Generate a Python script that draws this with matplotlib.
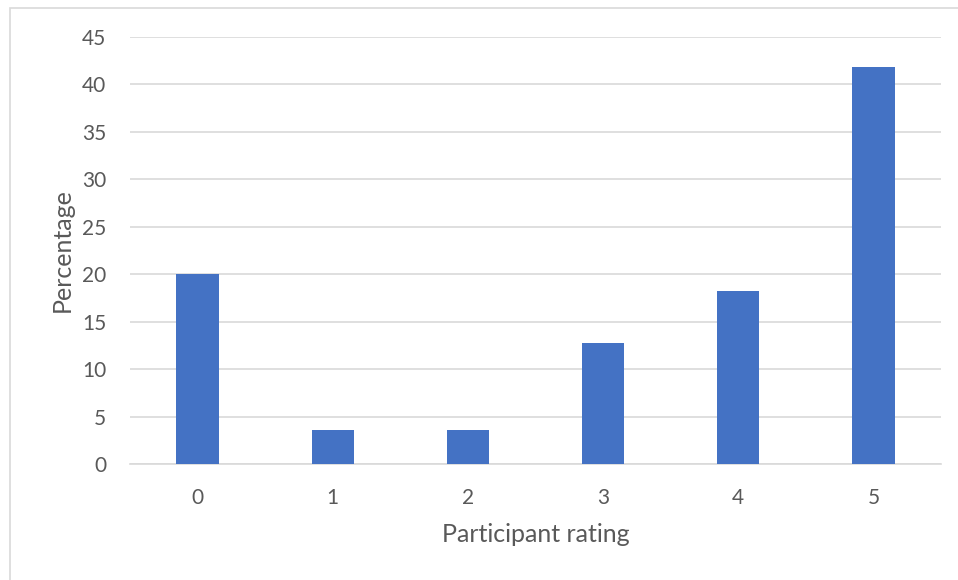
import matplotlib
matplotlib.use("Agg")
import matplotlib.pyplot as plt
from matplotlib.patches import Rectangle

ratings = ["0", "1", "2", "3", "4", "5"]
percentages = [20.0, 3.6, 3.6, 12.7, 18.2, 41.8]
y_ticks = [0, 5, 10, 15, 20, 25, 30, 35, 40, 45]

W, H = 958, 580
plt.rcParams["font.family"] = ["Lato", "DejaVu Sans"]
text_color = "#595959"
grid_color = "#D9D9D9"
bar_color = "#4472C4"

fig = plt.figure(figsize=(W / 100, H / 100), dpi=100)

# chart-area outline (continues past the right and bottom edges)
fig.patches.append(Rectangle((9.5 / W, -0.05), 1.2, 1 - 7.5 / H + 0.05,
                             transform=fig.transFigure, fill=False,
                             edgecolor=grid_color, linewidth=1.2))

ax = fig.add_axes([130 / W, 1 - 464 / H, (941 - 130) / W, (464 - 37) / H])
x = range(len(ratings))
ax.bar(x, percentages, width=0.313, color=bar_color, zorder=3)

ax.set_xlim(-0.5, len(ratings) - 0.5)
ax.set_ylim(0, 45)
ax.set_yticks(y_ticks)
ax.set_xticks(list(x))
ax.set_xticklabels(ratings)
ax.yaxis.grid(True, color=grid_color, linewidth=1.2, zorder=0)
for s in ["top", "right", "left"]:
    ax.spines[s].set_visible(False)
ax.spines["bottom"].set_color(grid_color)
ax.spines["bottom"].set_linewidth(1.2)
ax.tick_params(axis="both", length=0, labelsize=15, labelcolor=text_color)
ax.tick_params(axis="y", pad=17)
ax.tick_params(axis="x", pad=17)

ax.set_xlabel("Participant rating", fontsize=18, color=text_color, labelpad=12)
ax.set_ylabel("Percentage", fontsize=18, color=text_color, labelpad=12)
ax.xaxis.set_label_coords(0.5, -(535 - 464) / (464 - 37), transform=ax.transAxes)
ax.xaxis.label.set_va("center")
ax.yaxis.set_label_coords(-(130 - 62) / (941 - 130), 0.5, transform=ax.transAxes)
ax.yaxis.label.set_va("center")

fig.savefig("out.png", dpi=100)
